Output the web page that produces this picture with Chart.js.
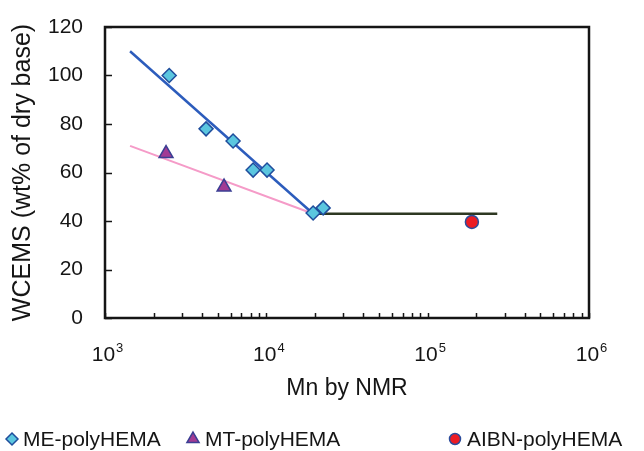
<!DOCTYPE html>
<html>
<head>
<meta charset="utf-8">
<script src="https://cdn.jsdelivr.net/npm/chart.js@4.4.1/dist/chart.umd.min.js"></script>
<style>
  html, body { margin: 0; padding: 0; background: #fff; }
</style>
</head>
<body>
<canvas id="wcems-chart" width="644" height="451"></canvas>
<script>
// measured points (Mn by NMR vs WCEMS)
const meMn = [2500, 4230, 6220, 8280, 10100, 19500, 22500];
const meWcems = [100, 78, 73, 61, 61, 43.3, 45.4];
const mtMn = [2390, 5470];
const mtWcems = [67.8, 54];
const aibnMn = [188000];
const aibnWcems = [39.6];

// drawn trend lines
const meFitMn = [1430, 19500];
const meFitWcems = [110, 43];
const mtFitMn = [1430, 19500];
const mtFitWcems = [71, 43];
const plateauMn = [19500, 270000];
const plateauWcems = [43, 43];

// axes
const xDecades = [1e3, 1e4, 1e5, 1e6];
const xExponents = ['3', '4', '5', '6'];
const xMinorSteps = [2, 3, 4, 5, 6, 7, 8, 9];
const yTickStep = 20;
const seriesNames = ['ME-polyHEMA', 'MT-polyHEMA', 'AIBN-polyHEMA'];

const FONT = "'Liberation Sans', Arial, Helvetica, sans-serif";
const INK = '#151515';

const toPoints = (xs, ys) => xs.map((x, i) => ({ x, y: ys[i] }));

const xTickValues = [];
xDecades.forEach((d, i) => {
    xTickValues.push(d);
    if (i < xDecades.length - 1) xMinorSteps.forEach(m => xTickValues.push(d * m));
});

// frame, inward ticks and 10^n labels
const frameAndTicks = {
    id: 'frameAndTicks',
    beforeDatasetsDraw(chart) {
        const { ctx, chartArea: a, scales: { x, y } } = chart;
        ctx.save();
        ctx.strokeStyle = INK;
        ctx.lineWidth = 1.5;
        ctx.beginPath();
        x.ticks.forEach(t => {
            const px = Math.round(x.getPixelForValue(t.value)) + 0.5;
            ctx.moveTo(px, a.bottom);
            ctx.lineTo(px, a.bottom - 5);
        });
        y.ticks.forEach(t => {
            const py = Math.round(y.getPixelForValue(t.value)) + 0.5;
            ctx.moveTo(a.left, py);
            ctx.lineTo(a.left + 7, py);
        });
        ctx.stroke();
        ctx.lineWidth = 2.5;
        ctx.strokeRect(a.left, a.top, a.width, a.height);

        ctx.fillStyle = INK;
        ctx.textBaseline = 'alphabetic';
        ctx.textAlign = 'left';
        xDecades.forEach((d, i) => {
            const px = x.getPixelForValue(d);
            ctx.font = '21px ' + FONT;
            const wb = ctx.measureText('10').width;
            ctx.font = '13px ' + FONT;
            const we = ctx.measureText(xExponents[i]).width;
            const left = px - (wb + we) / 2 + 2;
            ctx.font = '21px ' + FONT;
            ctx.fillText('10', left, a.bottom + 43);
            ctx.font = '13px ' + FONT;
            ctx.fillText(xExponents[i], left + wb + 1, a.bottom + 34);
        });
        ctx.restore();
    }
};

// legend row under the axis title
const legendSlots = [
    { marker: 12, text: 23, radius: 6 },
    { marker: 193, text: 205, radius: 7 },
    { marker: 455, text: 467, radius: 5.5 }
];
const legendRow = {
    id: 'legendRow',
    afterDraw(chart) {
        const { ctx } = chart;
        const yMid = 439;
        ctx.save();
        legendSlots.forEach((slot, i) => {
            const ds = chart.data.datasets[i];
            ctx.fillStyle = ds.backgroundColor;
            ctx.strokeStyle = ds.borderColor;
            ctx.lineWidth = 1.5;
            Chart.helpers.drawPoint(ctx, { pointStyle: ds.pointStyle, radius: slot.radius, borderWidth: 1.5, rotation: 0 }, slot.marker, yMid);
            ctx.fillStyle = INK;
            ctx.font = '21px ' + FONT;
            ctx.textBaseline = 'middle';
            ctx.fillText(seriesNames[i], slot.text, yMid + 1);
        });
        ctx.restore();
    }
};

new Chart(document.getElementById('wcems-chart'), {
    type: 'scatter',
    data: {
        datasets: [
            {
                label: seriesNames[0],
                data: toPoints(meMn, meWcems),
                pointStyle: 'rectRot',
                pointRadius: 7,
                backgroundColor: '#5bc6df',
                borderColor: '#1f4d9c',
                borderWidth: 1.5
            },
            {
                label: seriesNames[1],
                data: toPoints(mtMn, mtWcems),
                pointStyle: 'triangle',
                pointRadius: 8,
                backgroundColor: '#a23b94',
                borderColor: '#3b3f94',
                borderWidth: 1.5
            },
            {
                label: seriesNames[2],
                data: toPoints(aibnMn, aibnWcems),
                pointStyle: 'circle',
                pointRadius: 6.5,
                backgroundColor: '#ec1c24',
                borderColor: '#2b4c9c',
                borderWidth: 1.5
            },
            {
                label: 'ME fit',
                data: toPoints(meFitMn, meFitWcems),
                showLine: true,
                pointRadius: 0,
                borderColor: '#2c5cbc',
                borderWidth: 2.5
            },
            {
                label: 'MT fit',
                data: toPoints(mtFitMn, mtFitWcems),
                showLine: true,
                pointRadius: 0,
                borderColor: '#f59bc8',
                borderWidth: 2
            },
            {
                label: 'plateau',
                data: toPoints(plateauMn, plateauWcems),
                showLine: true,
                pointRadius: 0,
                borderColor: '#2e3822',
                borderWidth: 2.5
            }
        ]
    },
    options: {
        responsive: false,
        animation: false,
        layout: {
            padding: { left: 0, right: 55, top: 27, bottom: 43 }
        },
        plugins: {
            legend: { display: false },
            tooltip: { enabled: false }
        },
        scales: {
            x: {
                type: 'logarithmic',
                min: 1e3,
                max: 1e6,
                afterBuildTicks: (axis) => {
                    axis.ticks = xTickValues.map(v => ({ value: v }));
                },
                afterFit: (scale) => { scale.height = 90; },
                grid: { display: false },
                border: { display: false },
                ticks: { display: false },
                title: {
                    display: true,
                    text: 'Mn by NMR',
                    color: INK,
                    font: { family: FONT, size: 23 },
                    padding: { top: 0, bottom: 6 }
                }
            },
            y: {
                min: 0,
                max: 120,
                afterFit: (scale) => { scale.width = 105; },
                grid: { display: false },
                border: { display: false },
                ticks: {
                    stepSize: yTickStep,
                    padding: 14,
                    color: INK,
                    font: { family: FONT, size: 21 }
                },
                title: {
                    display: true,
                    text: 'WCEMS (wt% of dry base)',
                    color: INK,
                    font: { family: FONT, size: 25 },
                    padding: { top: 8, bottom: 0 }
                }
            }
        }
    },
    plugins: [frameAndTicks, legendRow]
});
</script>
</body>
</html>
